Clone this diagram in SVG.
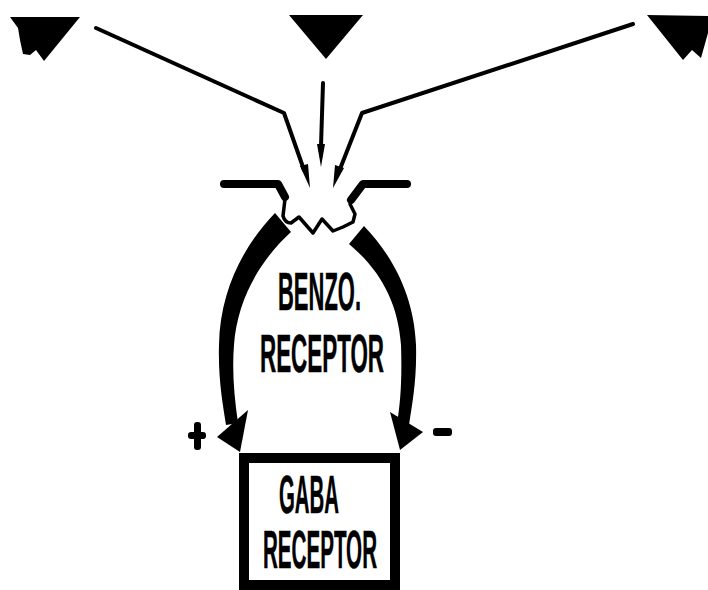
<svg xmlns="http://www.w3.org/2000/svg" width="708" height="590" viewBox="0 0 708 590">
<style>
.lbl{font-family:"Liberation Sans",Arial,sans-serif;font-weight:bold;font-size:53px;fill:#000;stroke:#000;stroke-width:0.5}
.thin{fill:none;stroke:#000;stroke-width:4;stroke-linecap:round;stroke-linejoin:round}
.site{fill:none;stroke:#000;stroke-width:3.5;stroke-linecap:round;stroke-linejoin:round}
.thick{fill:none;stroke:#000;stroke-width:8;stroke-linecap:round;stroke-linejoin:round}
.solid{fill:#000;stroke:none}
</style>
<rect width="708" height="590" fill="#fff"/>
<g id="ligand-left">
<polygon class="solid" points="10,17 80,17 44,61 36,50 30,55 23,54 20,40 18,28"/>
</g>
<g id="ligand-middle">
<polygon class="solid" points="289,15 363,15 326,59"/>
</g>
<g id="ligand-right">
<polygon class="solid" points="647,15 708,16 708,33 701,58 692,50 683,60"/>
</g>
<g id="binding-site">
<polyline class="thick" points="224,184 278,184 285,197"/>
<polyline class="thick" points="407,184 363,184 351,200"/>
<path class="site" d="M285,199 L283,216 Q285,223 291,223 L299,217 L313,233 L322,219 L333,231 L343,227 L353,222 L355,214 L350,204"/>
</g>
<g id="benzo-receptor">
<text class="lbl" x="278" y="310" textLength="83" lengthAdjust="spacingAndGlyphs">BENZO.</text>
<text class="lbl" x="260" y="372" textLength="124" lengthAdjust="spacingAndGlyphs">RECEPTOR</text>
</g>
<g id="gaba-receptor">
<rect x="244" y="458" width="151" height="127" fill="#fff" stroke="#000" stroke-width="10"/>
<text class="lbl" x="279" y="513" textLength="60" lengthAdjust="spacingAndGlyphs">GABA</text>
<text class="lbl" x="263" y="568" textLength="114" lengthAdjust="spacingAndGlyphs">RECEPTOR</text>
</g>
<g id="connectors">
<polyline class="thin" points="96,28 284,113 304,170"/>
<path class="solid" d="M300,166 L308,164 L310,188 Z"/>
<line class="thin" x1="323" y1="83" x2="321" y2="146"/>
<path class="solid" d="M317,144 L325,144 L321,167 Z"/>
<polyline class="thin" points="633,24 362,113 340,169"/>
<path class="solid" d="M335,165 L344,168 L333,188 Z"/>
<path class="solid" d="M275,213 C244,245 220,290 219,345 C218,380 223,405 226,425 L238,423 C234,395 232,370 234,345 C237,302 258,262 291,232 Z"/>
<polygon class="solid" points="217,437 248,410 240,452"/>
<path class="solid" d="M364,226 C392,255 414,295 416,345 C417,380 412,405 409,425 L397,423 C401,400 402,375 401,345 C398,302 380,270 349,244 Z"/>
<polygon class="solid" points="390,412 423,432 400,450"/>
<rect x="194" y="422" width="7" height="28" rx="3"/>
<rect x="188" y="432" width="18" height="7" rx="3"/>
<rect x="433" y="428" width="19" height="8" rx="3"/>
</g>
</svg>
